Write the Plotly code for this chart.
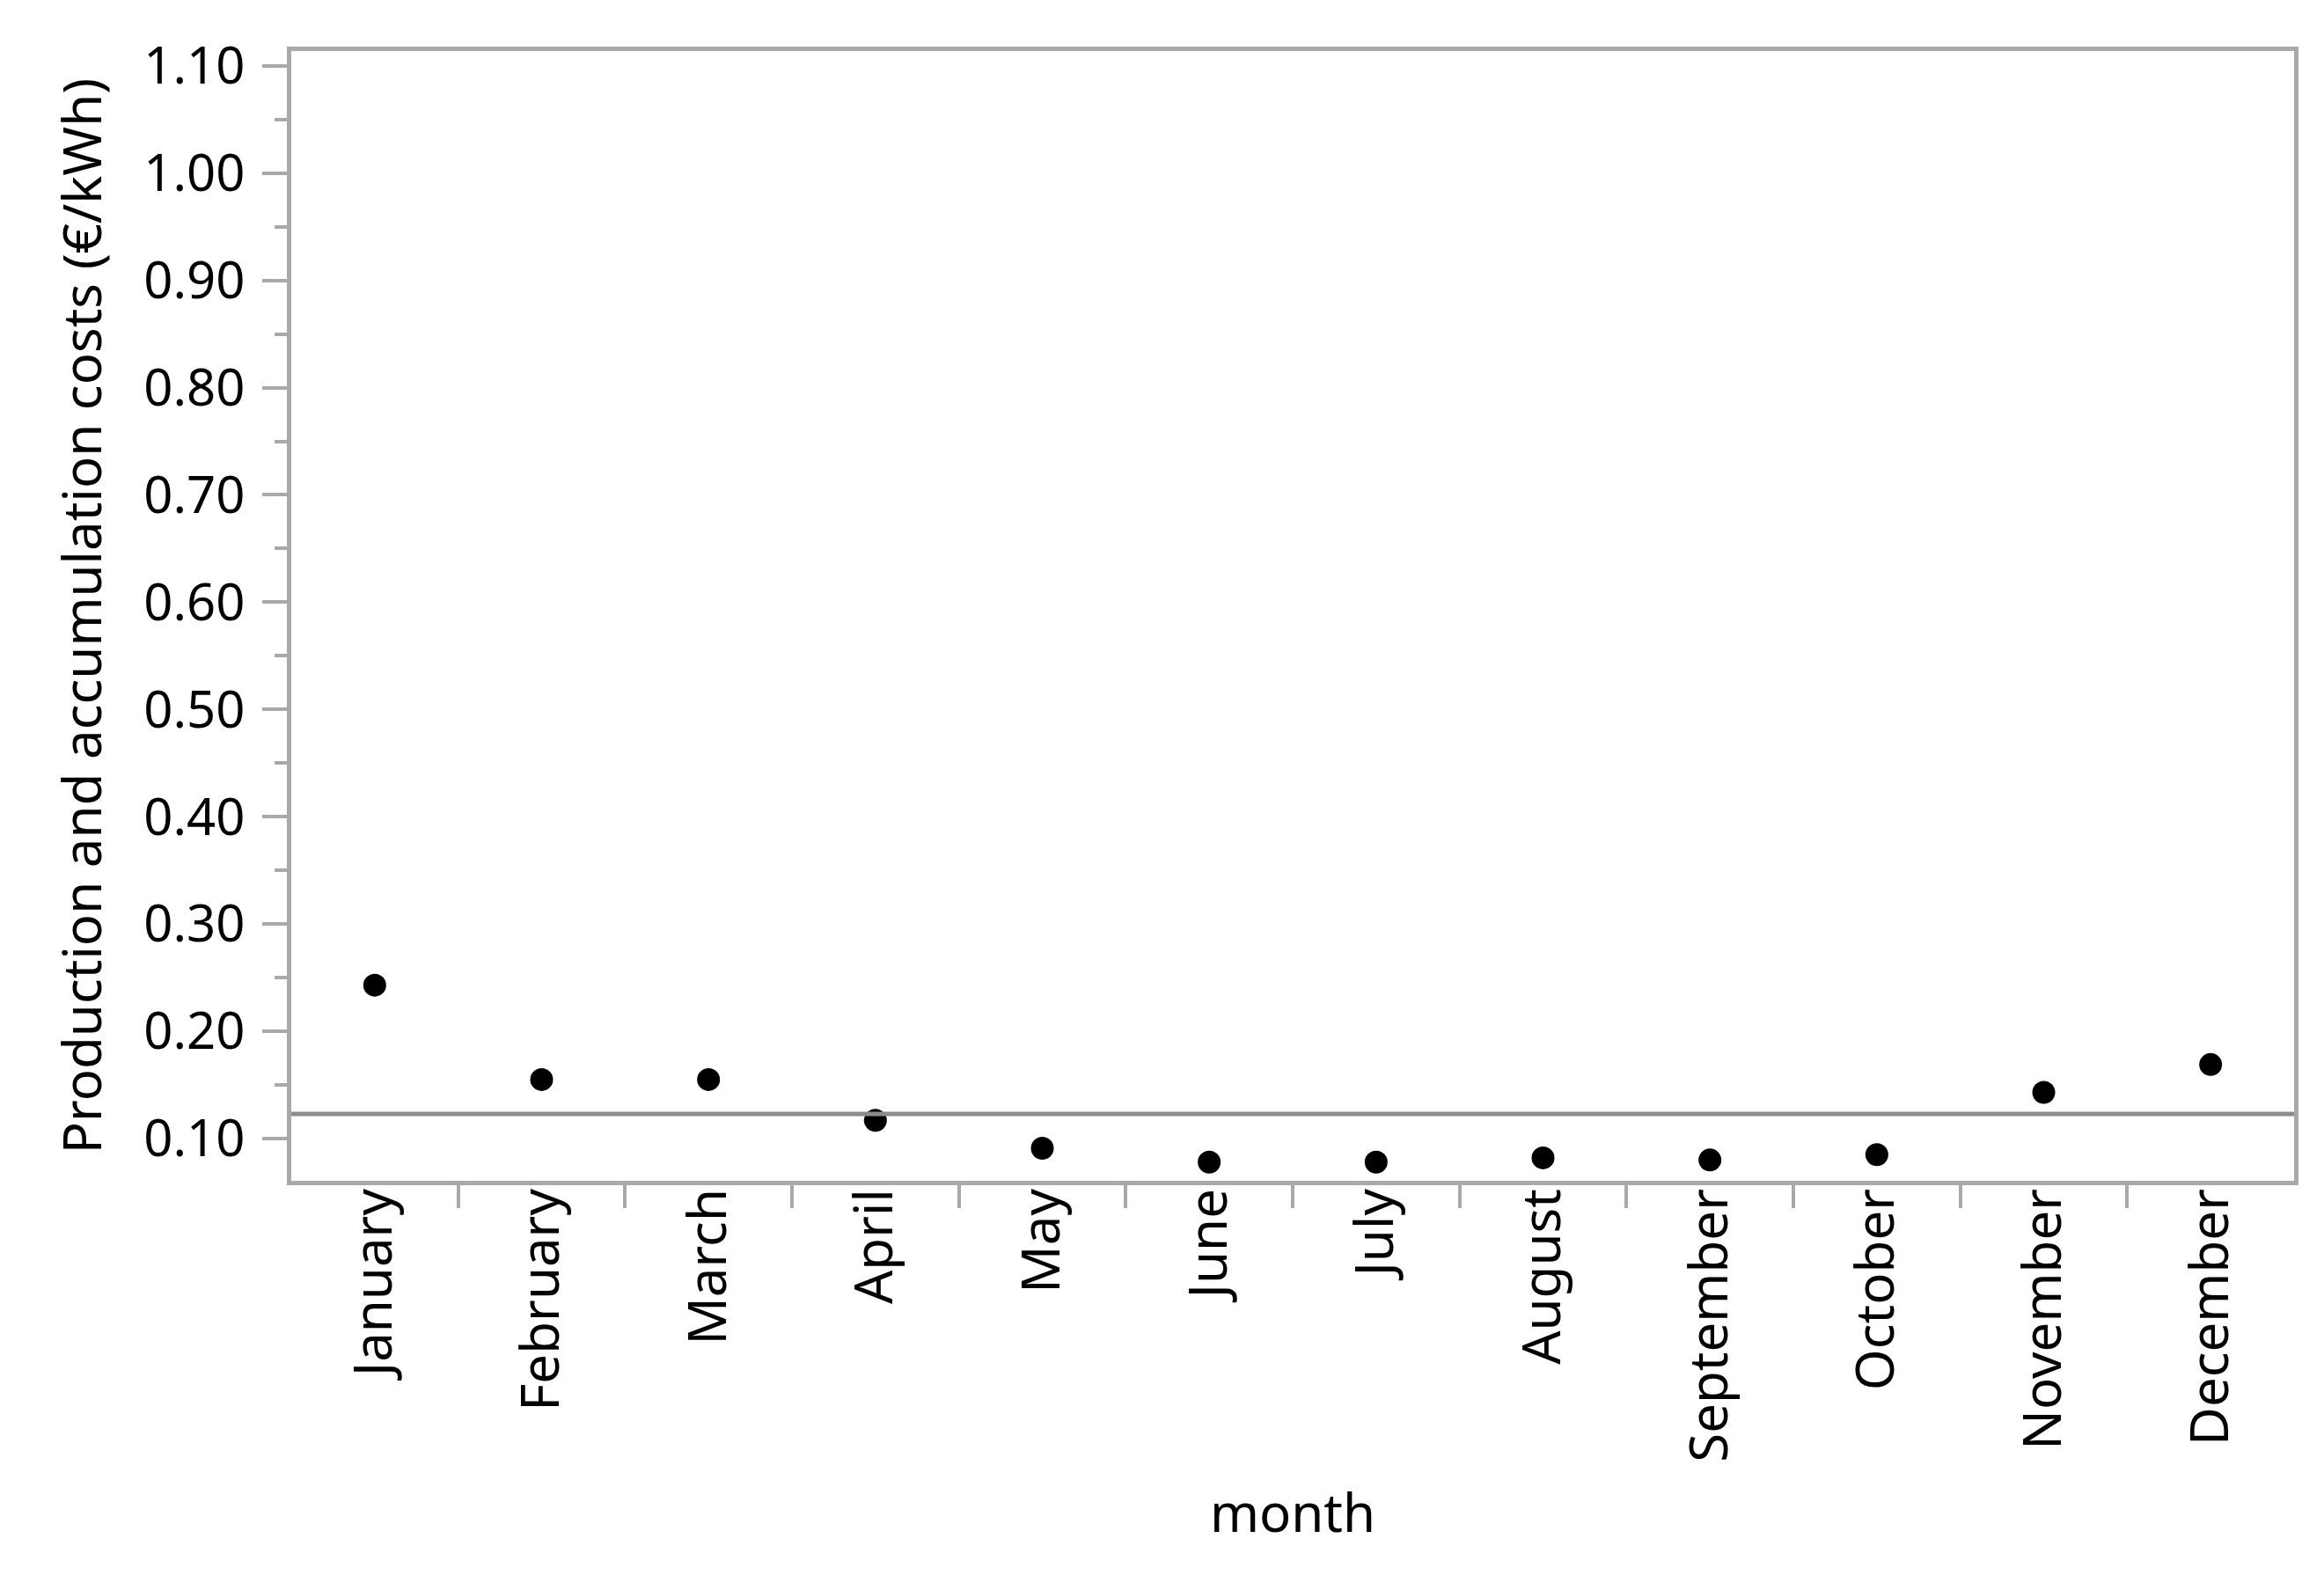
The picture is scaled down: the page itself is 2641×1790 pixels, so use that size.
import plotly.graph_objects as go

months = ["January", "February", "March", "April", "May", "June", "July",
          "August", "September", "October", "November", "December"]
costs = [0.243, 0.155, 0.155, 0.117, 0.091, 0.078, 0.078, 0.082, 0.080, 0.085, 0.143, 0.169]
mean_cost = sum(costs) / len(costs)

y_ticks = [0.10, 0.20, 0.30, 0.40, 0.50, 0.60, 0.70, 0.80, 0.90, 1.00, 1.10]
y_tick_labels = ["0.10", "0.20", "0.30", "0.40", "0.50", "0.60", "0.70", "0.80", "0.90", "1.00", "1.10"]
y_minor = [0.05, 0.15, 0.25, 0.35, 0.45, 0.55, 0.65, 0.75, 0.85, 0.95, 1.05]

# month positions on the x axis and the boundaries between them (where ticks are drawn)
month_pos = list(range(len(months)))
month_bounds = [i + 0.5 for i in range(len(months) - 1)]

FONT = "Noto Sans"
AXIS_COLOR = "#a9a9a9"

fig = go.Figure()
fig.add_trace(go.Scatter(
    x=month_pos, y=costs, mode="markers",
    marker=dict(color="black", size=26),
    showlegend=False,
))
fig.add_hline(y=mean_cost, line=dict(color="#8c8c8c", width=5))

fig.update_layout(
    width=2641, height=1790,
    margin=dict(l=323, r=42, t=50, b=456),
    paper_bgcolor="white", plot_bgcolor="white",
    font=dict(family=FONT, size=58, color="black"),
)
fig.update_xaxes(
    range=[-0.5, len(months) - 0.5],
    tickvals=month_pos, ticktext=months,
    title=dict(text="month", font=dict(size=60), standoff=40),
    tickangle=-90,
    ticks="",
    minor=dict(tickvals=month_bounds, ticks="outside", ticklen=26, tickwidth=4,
               tickcolor=AXIS_COLOR, showgrid=False),
    showline=True, linecolor=AXIS_COLOR, linewidth=5, mirror=True,
    showgrid=False, zeroline=False,
    ticklabelstandoff=-20,
    tickfont=dict(size=60),
)
fig.update_yaxes(
    range=[0.0606, 1.1138],
    tickvals=y_ticks, ticktext=y_tick_labels,
    ticks="outside", ticklen=28, tickwidth=4, tickcolor=AXIS_COLOR,
    minor=dict(tickvals=y_minor, ticks="outside", ticklen=14, tickwidth=4, tickcolor=AXIS_COLOR, showgrid=False),
    showline=True, linecolor=AXIS_COLOR, linewidth=5, mirror=True,
    showgrid=False, zeroline=False,
    ticklabelstandoff=8,
    title=dict(text="Production and accumulation costs (€/kWh)", font=dict(size=60), standoff=30),
    tickfont=dict(size=58),
)

fig.write_html("out.html")
